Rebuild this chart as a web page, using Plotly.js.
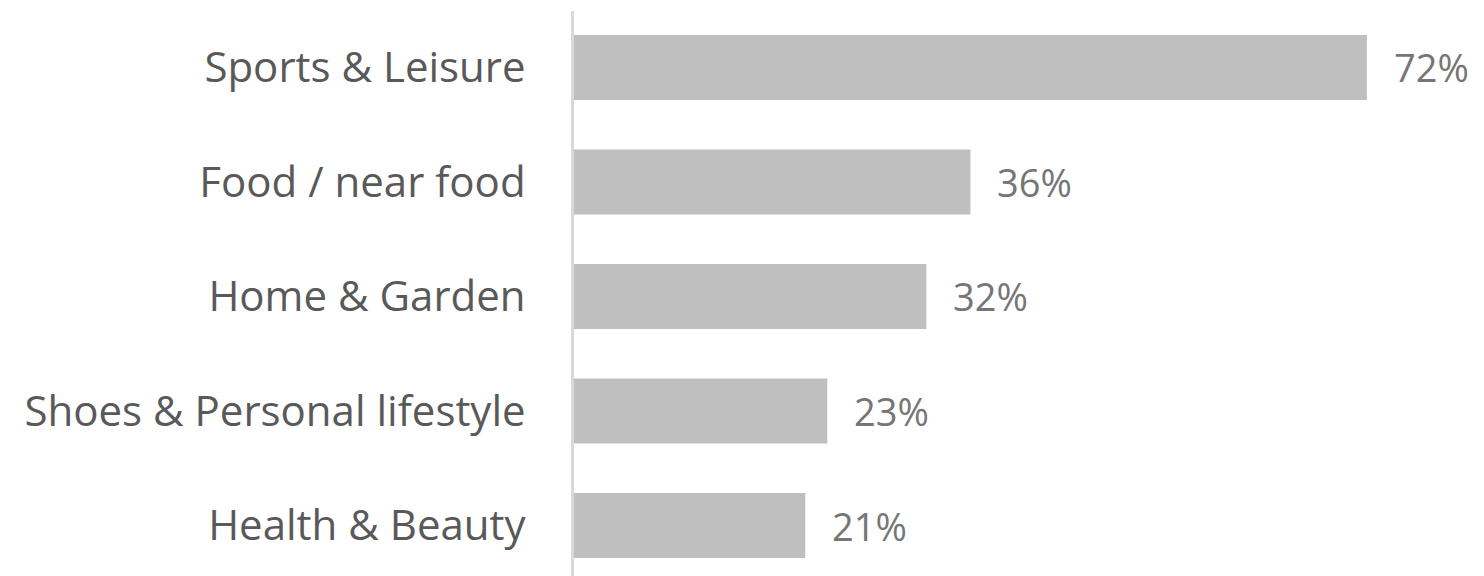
<!DOCTYPE html>
<html>
<head>
<meta charset="utf-8">
<script src="https://cdn.plot.ly/plotly-3.0.1.min.js"></script>
<style>html,body{margin:0;padding:0;background:#fff;}#chart{width:1484px;height:576px;}</style>
</head>
<body>
<div id="chart"></div>
<script>
const categories = ["Sports & Leisure", "Food / near food", "Home & Garden", "Shoes & Personal lifestyle", "Health & Beauty"];
const values = [72, 36, 32, 23, 21];
const valueLabels = ["72%", "36%", "32%", "23%", "21%"];

const FONT = "Open Sans, Noto Sans, sans-serif";

const trace = {
  type: "bar",
  orientation: "h",
  x: values,
  y: categories,
  marker: {color: "#bfbfbf"},
  hoverinfo: "skip",
  cliponaxis: false
};

const annotations = categories.map((c, i) => ({
  x: values[i], y: c, xref: "x", yref: "y",
  text: valueLabels[i], showarrow: false,
  xanchor: "left", yanchor: "middle", xshift: 25,
  font: {family: FONT, size: 38, color: "#767676"}
}));

const layout = {
  width: 1484, height: 576,
  margin: {l: 574, r: 29, t: 11, b: 0, pad: 0},
  paper_bgcolor: "#ffffff",
  plot_bgcolor: "#ffffff",
  showlegend: false,
  bargap: 0.432,
  xaxis: {range: [0, 80], showgrid: false, zeroline: false, showline: false, showticklabels: false, ticks: "", fixedrange: true},
  yaxis: {
    type: "category",
    range: [4.441, -0.493],
    showgrid: false, zeroline: false,
    showline: true, linecolor: "#d9d9d9", linewidth: 3,
    ticks: "", ticklabelstandoff: 37,
    tickfont: {family: FONT, size: 42, color: "#595959"},
    fixedrange: true
  },
  annotations: annotations
};

Plotly.newPlot("chart", [trace], layout, {displayModeBar: false, staticPlot: true});
</script>
</body>
</html>
